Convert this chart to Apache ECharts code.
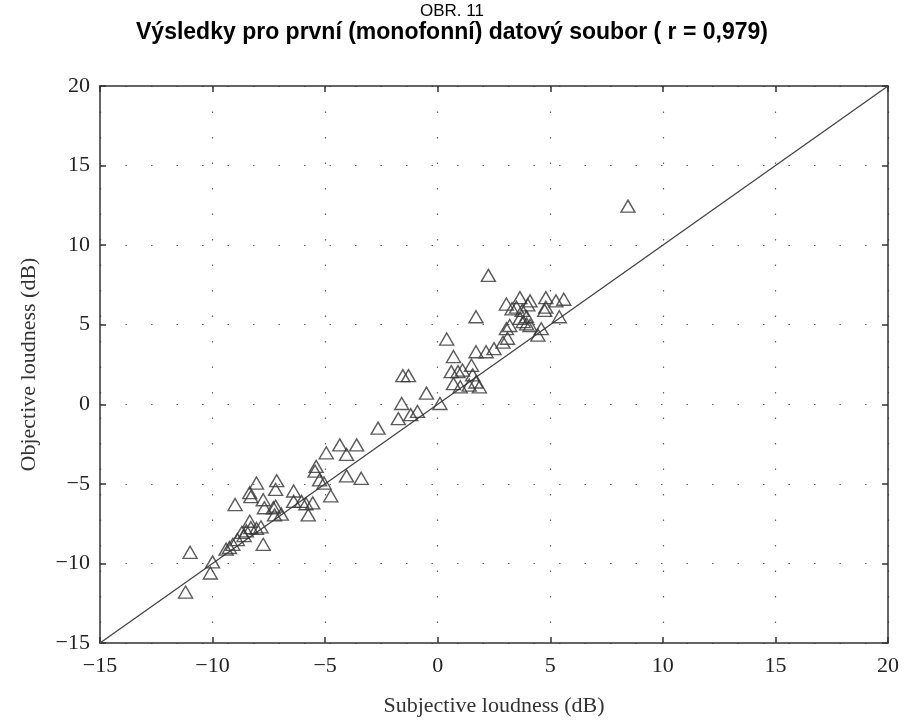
<!DOCTYPE html>
<html>
<head>
<meta charset="utf-8">
<script src="https://cdn.jsdelivr.net/npm/echarts@6/dist/echarts.min.js"></script>
<style>html,body{margin:0;padding:0;background:#fff;}#chart{width:904px;height:722px;}</style>
</head>
<body>
<div id="chart"></div>
<script>
// Subjective loudness (dB) values
const subjective = [
  -11.2, -11.0, -10.0, -10.1, -9.4, -9.25, -9.1, -8.9, -8.6, -8.7,
  -8.5, -8.3, -8.05, -7.85, -8.35, -7.75, -8.05, -7.15, -7.2, -9.0,
  -8.35, -8.3, -7.75, -7.7, -7.3, -7.2, -7.25, -6.4, -6.4, -6.05,
  -5.85, -5.55, -5.75, -4.75, -6.95,
  -5.4, -5.45, -5.25, -5.05, -4.95, -4.35, -4.05, -3.6, -4.05, -3.4,
  -2.65, -1.75, -1.2, -0.9, -1.6, -1.55, -1.3, -0.5, 0.1,
  0.4, 0.7, 0.6, 0.9, 0.7, 1.0, 1.1, 1.5, 1.55, 1.4,
  1.7, 1.85, 1.7, 2.25, 1.7, 2.15, 2.5, 2.9, 3.1, 3.05,
  3.2, 3.05, 3.3, 3.5, 3.65, 3.75, 4.1, 4.0, 3.65, 3.95,
  3.95, 4.1, 3.8, 4.8, 5.25, 5.6, 4.8, 4.75, 5.4, 4.6,
  4.45, 8.45
];
// Objective loudness (dB) values
const objective = [
  -11.8, -9.3, -9.9, -10.6, -9.1, -9.0, -8.8, -8.5, -8.25, -8.05,
  -7.95, -7.75, -7.8, -7.7, -7.35, -8.8, -4.95, -4.8, -5.35, -6.3,
  -5.55, -5.8, -6.0, -6.5, -6.5, -6.4, -6.95, -5.45, -6.1, -6.1,
  -6.25, -6.2, -6.95, -5.75, -6.9,
  -3.9, -4.2, -4.75, -4.95, -3.05, -2.55, -3.15, -2.55, -4.5, -4.65,
  -1.5, -0.9, -0.65, -0.45, 0.05, 1.8, 1.8, 0.7, 0.05,
  4.1, 3.0, 2.05, 2.05, 1.3, 1.1, 2.15, 2.45, 1.85, 1.2,
  1.4, 1.1, 5.5, 8.1, 3.3, 3.3, 3.5, 3.9, 4.15, 4.75,
  4.95, 6.3, 6.0, 6.1, 6.7, 5.9, 6.5, 6.25, 5.4, 5.5,
  5.05, 4.95, 5.2, 6.7, 6.5, 6.6, 6.1, 5.9, 5.5, 4.75,
  4.35, 12.45
];
// Reference line y = x
const refLineX = [-15, 20];
const refLineY = [-15, 20];
// Axis tick values
const axisMin = -15, axisMax = 20, tickStep = 5;

const titleTop = 'OBR. 11';
const titleMain = 'Výsledky pro první (monofonní) datový soubor ( r = 0,979)';
const xName = 'Subjective loudness (dB)';
const yName = 'Objective loudness (dB)';

const points = subjective.map((x, i) => [x, objective[i]]);
const linePts = refLineX.map((x, i) => [x, refLineY[i]]);

const serif = '"Liberation Serif", "DejaVu Serif", serif';
const fmt = v => String(v).replace('-', '\u2212');
const axisLine = { show: true, onZero: false, lineStyle: { color: '#333', width: 1.5 } };
const tick = { show: true, inside: true, length: 6, lineStyle: { color: '#333', width: 1.5 } };
const grid = { show: true, lineStyle: { color: '#666', width: 1.2, type: [1.5, 24] } };

const chart = echarts.init(document.getElementById('chart'), null, { renderer: 'canvas' });
chart.setOption({
  backgroundColor: '#fff',
  animation: false,
  title: [
    { text: titleTop, left: 'center', top: -2,
      textStyle: { fontFamily: '"Liberation Sans", Arial, sans-serif', fontWeight: 'normal', fontSize: 17, color: '#000' } },
    { text: titleMain, left: 'center', top: 16,
      textStyle: { fontFamily: '"Liberation Sans", Arial, sans-serif', fontWeight: 'bold', fontSize: 23, color: '#000' } }
  ],
  grid: { left: 100, right: 16, top: 86, bottom: 66, containLabel: false },
  xAxis: [
    { type: 'value', min: axisMin, max: axisMax, interval: tickStep, position: 'bottom',
      name: xName, nameLocation: 'middle', nameGap: 52,
      nameTextStyle: { fontFamily: serif, fontSize: 22, color: '#333' },
      axisLine, axisTick: tick, splitLine: grid,
      axisLabel: { formatter: fmt, fontFamily: serif, fontSize: 22, color: '#222', margin: 12 } },
    { type: 'value', min: axisMin, max: axisMax, interval: tickStep, position: 'top',
      axisLine, axisTick: tick, splitLine: { show: false }, axisLabel: { show: false } }
  ],
  yAxis: [
    { type: 'value', min: axisMin, max: axisMax, interval: tickStep, position: 'left',
      name: yName, nameLocation: 'middle', nameGap: 60, nameRotate: 90,
      nameTextStyle: { fontFamily: serif, fontSize: 22, color: '#333' },
      axisLine, axisTick: tick, splitLine: grid,
      axisLabel: { formatter: fmt, fontFamily: serif, fontSize: 22, color: '#222', margin: 10 } },
    { type: 'value', min: axisMin, max: axisMax, interval: tickStep, position: 'right',
      axisLine, axisTick: tick, splitLine: { show: false }, axisLabel: { show: false } }
  ],
  series: [
    { type: 'line', data: linePts, symbol: 'none', silent: true,
      lineStyle: { color: '#444', width: 1.3 }, z: 2 },
    { type: 'scatter', data: points, symbol: 'triangle', symbolSize: [14, 12],
      itemStyle: { color: 'rgba(255,255,255,0)', borderColor: '#333', borderWidth: 1.4 }, z: 3 }
  ]
});
</script>
</body>
</html>
